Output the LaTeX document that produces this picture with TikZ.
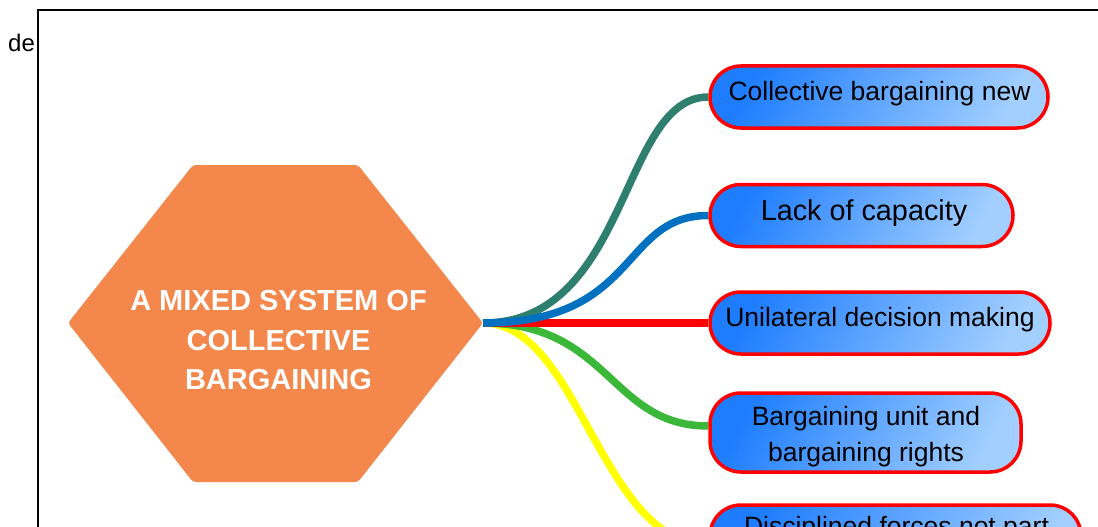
\documentclass[tikz,border=0pt]{standalone}
\usepackage{fontspec}
\setmainfont{Liberation Sans}
\usetikzlibrary{backgrounds}

\definecolor{hexorange}{HTML}{F4874B}
\definecolor{linkteal}{HTML}{2E7F6D}
\definecolor{linkblue}{HTML}{0070C0}
\definecolor{linkred}{HTML}{FF0000}
\definecolor{linkgreen}{HTML}{3BB83A}
\definecolor{linkyellow}{HTML}{FFFF00}
\definecolor{boxdark}{HTML}{1E7DFF}
\definecolor{boxlight}{HTML}{A2CFFF}

\tikzset{
  link/.style={line width=7.5pt, line cap=butt},
  pill/.style={draw=linkred, line width=3.5pt, rounded corners=31pt,
    left color=boxdark, right color=boxlight, shading angle=62,
    minimum height=62pt, inner sep=0pt},
  boxtext/.style={font=\fontsize{26.5}{36.5}\selectfont, text=black,
    inner sep=0pt, align=center},
  hubtext/.style={font=\bfseries\fontsize{29}{39.3}\selectfont, text=white,
    inner sep=0pt, align=center},
}

\begin{document}
\begin{tikzpicture}[x=1pt, y=-1pt]
\useasboundingbox (0,0) rectangle (1098,527);
\clip (0,0) rectangle (1098,527);

% page frame and stray label
\draw[line width=2pt] (38,560) -- (38,10) -- (1120,10);
\node[anchor=base west, inner sep=0pt, font=\fontsize{24}{27}\selectfont] (de) at (8,52) {de};

% topic boxes
\node[pill, minimum width=338pt] (b1) at (879,97) {};
\node[pill, minimum width=303pt] (b2) at (861.5,215.5) {};
\node[pill, minimum width=340pt] (b3) at (880,323) {};
\node[pill, minimum width=311pt, minimum height=79pt] (b4) at (865.5,432.5) {};
\node[pill, minimum width=371pt, minimum height=79pt] (b5) at (895.5,544.5) {};

% hub point on the right tip of the hexagon
\coordinate (hub) at (483,323);

% branches, drawn beneath the boxes
\begin{scope}[on background layer]
\draw[link, linkyellow] (hub) .. controls (580,323) and (600,544.5) .. (b5.west);
\draw[link, linkgreen] (hub) .. controls (610,323) and (610,426) .. ([yshift=6.5pt]b4.west);
\draw[link, linkred] (hub) -- (b3.west);
\draw[link, linkteal] (hub) .. controls (630,323) and (620,97) .. (b1.west);
\draw[link, linkblue] (hub) .. controls (640,323) and (620,215.5) .. (b2.west);
\end{scope}

% box labels
\node[boxtext, anchor=base] (t1) at (879.5,100) {Collective bargaining new};
\node[boxtext, anchor=base, font=\fontsize{28.8}{34}\selectfont] (t2) at (864,220) {Lack of capacity};
\node[boxtext, anchor=base] (t3) at (880,326.3) {Unilateral decision making};
\node[boxtext, anchor=north] (t4) at (866,405.7) {Bargaining unit and\\bargaining rights};
\node[boxtext, anchor=base] (t5) at (896.5,535) {Disciplined forces not part};

% central hexagon
\path[fill=hexorange, rounded corners=3pt]
  (68,323) -- (193,165) -- (358,165) -- (483,323) -- (358,482) -- (193,482) -- cycle;
\node[hubtext, anchor=north] (title) at (278.5,290.3)
  {A MIXED SYSTEM OF\\COLLECTIVE\\BARGAINING};
\end{tikzpicture}
\end{document}
